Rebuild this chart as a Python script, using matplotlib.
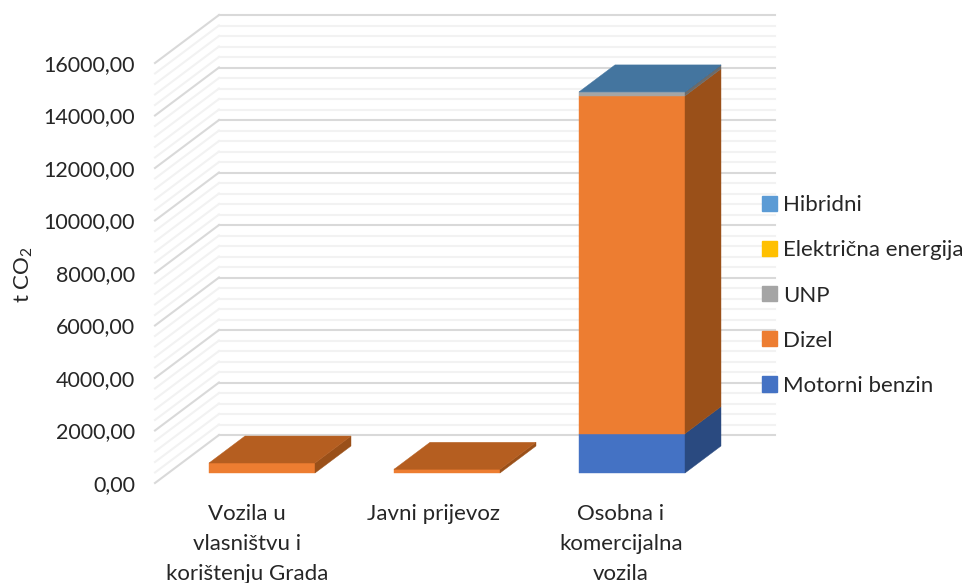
import matplotlib
matplotlib.use('Agg')
import matplotlib.pyplot as plt
from matplotlib.patches import Patch
from matplotlib.transforms import ScaledTranslation

plt.rcParams['font.family'] = ['Lato', 'DejaVu Sans']
plt.rcParams['mathtext.default'] = 'regular'

categories = ['Vozila u\nvlasništvu i\nkorištenju Grada', 'Javni prijevoz', 'Osobna i\nkomercijalna\nvozila']
series_names = ['Motorni benzin', 'Dizel', 'UNP', 'Električna energija', 'Hibridni']
benzin = [0, 0, 1500]
dizel = [380, 140, 12865]
unp = [0, 0, 150]
elektricna = [0, 0, 0]
hibridni = [0, 0, 3]
y_ticks = [0, 2000, 4000, 6000, 8000, 10000, 12000, 14000, 16000]
y_minor = [v * 400 for v in range(41)]

front_colors = ['#4472C4', '#ED7D31', '#A5A5A5', '#FFC000', '#5B9BD5']
side_colors = ['#2A4A80', '#9A5019', '#6B6B6B', '#A67C00', '#3B6A94']
top_colors = ['#345A9A', '#B55E20', '#808080', '#C09000', '#44759F']

W, H = 963, 583
DPI = 100
fig = plt.figure(figsize=(W / DPI, H / DPI), dpi=DPI)
# axes box = front plane of the chart, in pixels
ax = fig.add_axes([155 / W, 1 - 483 / H, (775 - 155) / W, 420 / H])
ax.set_ylim(0, 16000)
ax.set_xlim((155 - 262) / 185, (775 - 262) / 185)
ax.patch.set_visible(False)
for s in ax.spines.values():
    s.set_visible(False)


def shifted(dx, dy):
    # pixel offset on top of data coords
    return ax.transData + ScaledTranslation(dx / DPI, dy / DPI, fig.dpi_scale_trans)


# back wall and floor grid
wall_dx, wall_dy = 64, 48
x_left, x_right = ax.get_xlim()
x_wall = x_left + wall_dx / 185
for v in y_minor:
    major = v in y_ticks
    color = '#D9D9D9' if major else '#F2F2F2'
    ax.plot([x_left, x_wall], [v, v + wall_dy * 16000 / 420],
            color=color, lw=1.5, zorder=2 if major else 1, clip_on=False)
    ax.plot([x_wall, x_right], [v + wall_dy * 16000 / 420] * 2,
            color=color, lw=1.5, zorder=2 if major else 1, clip_on=False)

# bars, front plane sits 10px above the axis zero
bar_w = 106 / 185
depth_x, depth_y = 36, 27
front = shifted(0, 10)
all_series = [benzin, dizel, unp, elektricna, hibridni]
z = 3
for i in range(len(categories)):
    x0, x1 = i - bar_w / 2, i + bar_w / 2
    bottom = 0
    top_idx = 0
    dx = depth_x / 185
    dy = depth_y * 16000 / 420
    for k, vals in enumerate(all_series):
        v = vals[i]
        if v <= 0:
            continue
        top_idx = k
        ax.fill([x0, x1, x1, x0], [bottom, bottom, bottom + v, bottom + v], transform=front,
                color=front_colors[k], lw=0.3, zorder=z, clip_on=False)
        ax.fill([x1, x1 + dx, x1 + dx, x1], [bottom, bottom + dy, bottom + v + dy, bottom + v],
                transform=front, color=side_colors[k], lw=0.3, zorder=z, clip_on=False)
        bottom += v
    ax.fill([x0, x1, x1 + dx, x0 + dx], [bottom, bottom, bottom + dy, bottom + dy], transform=front,
            color=top_colors[top_idx], lw=0.3, zorder=z + 1, clip_on=False)

ax.set_yticks(y_ticks)
ax.set_yticklabels([f'{v},00' for v in y_ticks])
ax.tick_params(axis='y', length=0, pad=14.4, labelsize=15.5, labelcolor='#262626')
ax.set_xticks(range(len(categories)))
ax.set_xticklabels(categories, linespacing=1.62)
ax.tick_params(axis='x', length=0, pad=15, labelsize=16, labelcolor='#262626')
# labels sit left of the bars in the reference
label_shift = [-15, -14, -11]
for lab, sh in zip(ax.get_xticklabels(), label_shift):
    lab.set_transform(lab.get_transform() + ScaledTranslation(sh / DPI, 0, fig.dpi_scale_trans))
ax.set_ylabel('t CO$_2$', fontsize=16, color='#262626', labelpad=0)
ax.yaxis.set_label_coords((35 - 155) / (775 - 155), (483 - 275) / 420)

handles = [Patch(color=c) for c in front_colors[::-1]]
leg = ax.legend(handles, series_names[::-1], loc='center left', frameon=False, fontsize=16,
                bbox_to_anchor=(762 / W, 1 - 295.5 / H), bbox_transform=fig.transFigure,
                handlelength=0.68, handleheight=0.68, handletextpad=0.27, labelspacing=1.13,
                borderpad=0, borderaxespad=0, labelcolor='#262626')

fig.savefig('out.png', dpi=DPI)
